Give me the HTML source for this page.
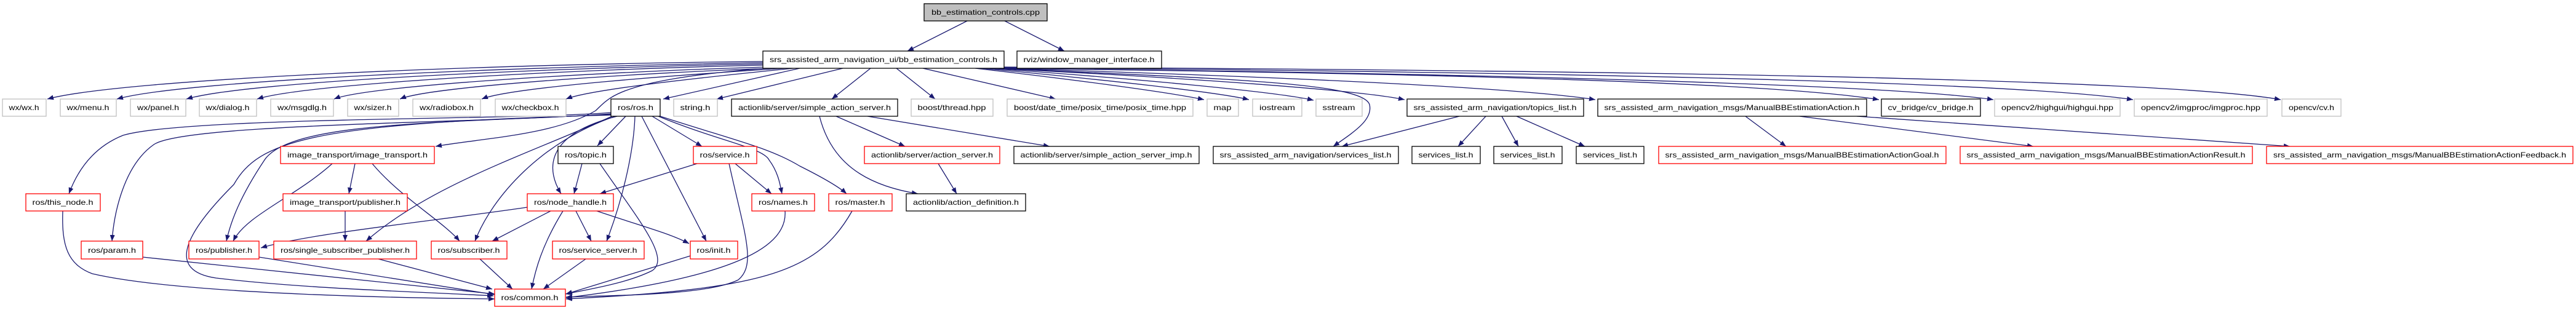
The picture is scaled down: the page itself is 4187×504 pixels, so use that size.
<!DOCTYPE html>
<html><head><meta charset="utf-8"><style>
html,body{margin:0;padding:0;background:#fff;}
svg{display:block;}
text{font-family:"Liberation Sans",sans-serif;font-size:12px;fill:#000;}
.e{fill:none;stroke:#191970;stroke-width:1.3;marker-end:url(#a);}
.b{stroke:#000;fill:#fff;stroke-width:1.3;}
.g{stroke:#bfbfbf;fill:#fff;stroke-width:1.3;}
.r{stroke:#ff0000;fill:#fff;stroke-width:1.3;}
</style></head><body>
<svg width="4187" height="504" viewBox="0 0 4187 504" xmlns="http://www.w3.org/2000/svg">
<defs><marker id="a" markerUnits="userSpaceOnUse" markerWidth="11" markerHeight="8" refX="10" refY="4" orient="auto"><path d="M0,0 L10,4 L0,8 z" fill="#191970"/></marker></defs>
<g>
<!-- edges -->
<path class="e" d="M1572,34 L1475,83"/>
<path class="e" d="M1633,34 L1730,83"/>
<path class="e" d="M1240,100 C 800,104 200,128 77,161"/>
<path class="e" d="M1240,102 C 850,108 300,130 190,161"/>
<path class="e" d="M1240,104 C 900,110 400,132 303,161"/>
<path class="e" d="M1240,106 C 950,112 500,135 418,161"/>
<path class="e" d="M1245,109 C 1000,116 600,138 543,161"/>
<path class="e" d="M1255,111 C 1050,118 700,140 650,161"/>
<path class="e" d="M1275,111 C 1100,122 830,142 783,161"/>
<path class="e" d="M1290,111 C 1150,125 960,145 920,161"/>
<path class="e" d="M1300,111 L1078,161"/>
<path class="e" d="M1370,111 L1165,161"/>
<path class="e" d="M1415,111 L1352,161"/>
<path class="e" d="M1457,111 L1520,161"/>
<path class="e" d="M1500,111 L1716,161"/>
<path class="e" d="M1585,111 C 1750,130 1900,150 1957,162"/>
<path class="e" d="M1595,111 C 1800,130 1980,150 2030,162"/>
<path class="e" d="M1605,111 C 1850,128 2080,150 2135,163"/>
<path class="e" d="M1612,111 C 1900,125 2200,145 2283,162"/>
<path class="e" d="M1620,111 C 2000,122 2450,140 2593,162"/>
<path class="e" d="M1625,111 C 2200,118 2850,130 3054,162"/>
<path class="e" d="M1628,111 C 2300,118 3050,135 3240,162"/>
<path class="e" d="M1630,110 C 2400,116 3250,130 3467,162"/>
<path class="e" d="M1632,109 C 2500,114 3500,125 3707,162"/>
<path class="e" d="M1245,111 C 1000,130 990,160 968,180 C 900,220 780,225 708,238"/>
<path class="e" d="M1615,111 C 2000,128 2215,135 2226,170 C 2232,195 2200,215 2167,238"/>
<path class="e" d="M993,183 C 850,195 300,190 200,220 C 150,240 125,280 112,315"/>
<path class="e" d="M993,185 C 800,200 300,200 250,235 C 200,270 185,350 182,392"/>
<path class="e" d="M995,186 C 700,200 470,200 430,260 C 390,320 375,360 368,392"/>
<path class="e" d="M995,187 C 500,200 420,230 380,300 C 300,380 270,440 351,452 C 500,470 700,475 802,481"/>
<path class="e" d="M997,188 C 860,250 700,300 595,392"/>
<path class="e" d="M1000,189 C 880,230 800,320 772,392"/>
<path class="e" d="M1003,189 C 880,220 890,280 912,315"/>
<path class="e" d="M1017,189 L971,237"/>
<path class="e" d="M1032,189 C 1030,250 1010,330 986,392"/>
<path class="e" d="M1043,189 L1148,392"/>
<path class="e" d="M1060,189 L1141,238"/>
<path class="e" d="M1070,189 C 1170,230 1240,240 1250,260 C 1265,280 1268,300 1271,315"/>
<path class="e" d="M1073,189 C 1200,230 1250,240 1300,270 C 1340,290 1365,305 1376,315"/>
<path class="e" d="M540,266 C 480,320 400,350 379,392"/>
<path class="e" d="M577,266 L567,315"/>
<path class="e" d="M605,266 C 650,320 720,360 747,392"/>
<path class="e" d="M561,343 L561,392"/>
<path class="e" d="M946,266 L933,315"/>
<path class="e" d="M975,266 C 1040,360 1090,420 1060,440 C 1020,460 960,470 919,478"/>
<path class="e" d="M857,337 C 700,360 500,380 424,403"/>
<path class="e" d="M895,343 L800,392"/>
<path class="e" d="M915,343 C 880,400 870,440 864,470"/>
<path class="e" d="M936,343 L961,392"/>
<path class="e" d="M970,343 C 1050,370 1090,380 1120,396"/>
<path class="e" d="M1133,266 L975,315"/>
<path class="e" d="M1195,266 L1254,315"/>
<path class="e" d="M1185,266 C 1210,380 1230,430 1200,455 C 1150,480 1000,480 920,483"/>
<path class="e" d="M1122,416 L920,478"/>
<path class="e" d="M1276,343 C 1280,400 1200,450 920,484"/>
<path class="e" d="M1385,343 C 1330,440 1250,470 920,486"/>
<path class="e" d="M102,343 C 100,400 110,430 150,445 C 300,480 700,485 804,486"/>
<path class="e" d="M232,418 L804,478"/>
<path class="e" d="M421,418 L804,479"/>
<path class="e" d="M615,421 L800,470"/>
<path class="e" d="M780,421 L833,470"/>
<path class="e" d="M952,421 L883,470"/>
<path class="e" d="M1359,189 L1471,238"/>
<path class="e" d="M1410,189 L1706,238"/>
<path class="e" d="M1332,189 C 1350,260 1400,300 1492,315"/>
<path class="e" d="M1525,266 L1555,315"/>
<path class="e" d="M2372,189 L2181,238"/>
<path class="e" d="M2415,189 L2370,238"/>
<path class="e" d="M2441,189 L2468,238"/>
<path class="e" d="M2465,189 L2576,238"/>
<path class="e" d="M2837,189 L2903,238"/>
<path class="e" d="M2925,189 L3305,238"/>
<path class="e" d="M3018,189 L3722,238"/>
</g>
<g text-anchor="middle" lengthAdjust="spacingAndGlyphs">
<!-- row0 -->
<rect x="1502" y="6" width="200" height="28" class="b" style="fill:#bfbfbf"/><text x="1602" y="24" textLength="176" lengthAdjust="spacingAndGlyphs">bb_estimation_controls.cpp</text>
<!-- row1 -->
<rect x="1240" y="83" width="392" height="28" class="b"/><text x="1436" y="101" textLength="370" lengthAdjust="spacingAndGlyphs">srs_assisted_arm_navigation_ui/bb_estimation_controls.h</text>
<rect x="1653" y="83" width="235" height="28" class="b"/><text x="1770" y="101" textLength="213" lengthAdjust="spacingAndGlyphs">rviz/window_manager_interface.h</text>
<!-- row2 -->
<rect x="4" y="161" width="71" height="28" class="g"/><text x="39" y="179" textLength="49" lengthAdjust="spacingAndGlyphs">wx/wx.h</text>
<rect x="98" y="161" width="91" height="28" class="g"/><text x="143" y="179" textLength="69" lengthAdjust="spacingAndGlyphs">wx/menu.h</text>
<rect x="212" y="161" width="90" height="28" class="g"/><text x="257" y="179" textLength="68" lengthAdjust="spacingAndGlyphs">wx/panel.h</text>
<rect x="324" y="161" width="93" height="28" class="g"/><text x="370" y="179" textLength="71" lengthAdjust="spacingAndGlyphs">wx/dialog.h</text>
<rect x="440" y="161" width="102" height="28" class="g"/><text x="491" y="179" textLength="80" lengthAdjust="spacingAndGlyphs">wx/msgdlg.h</text>
<rect x="565" y="161" width="83" height="28" class="g"/><text x="606" y="179" textLength="61" lengthAdjust="spacingAndGlyphs">wx/sizer.h</text>
<rect x="671" y="161" width="110" height="28" class="g"/><text x="726" y="179" textLength="88" lengthAdjust="spacingAndGlyphs">wx/radiobox.h</text>
<rect x="805" y="161" width="115" height="28" class="g"/><text x="862" y="179" textLength="93" lengthAdjust="spacingAndGlyphs">wx/checkbox.h</text>
<rect x="993" y="161" width="80" height="28" class="b"/><text x="1033" y="179" textLength="58" lengthAdjust="spacingAndGlyphs">ros/ros.h</text>
<rect x="1095" y="161" width="71" height="28" class="g"/><text x="1130" y="179" textLength="49" lengthAdjust="spacingAndGlyphs">string.h</text>
<rect x="1189" y="161" width="270" height="28" class="b"/><text x="1324" y="179" textLength="248" lengthAdjust="spacingAndGlyphs">actionlib/server/simple_action_server.h</text>
<rect x="1481" y="161" width="133" height="28" class="g"/><text x="1547" y="179" textLength="111" lengthAdjust="spacingAndGlyphs">boost/thread.hpp</text>
<rect x="1637" y="161" width="302" height="28" class="g"/><text x="1788" y="179" textLength="280" lengthAdjust="spacingAndGlyphs">boost/date_time/posix_time/posix_time.hpp</text>
<rect x="1962" y="161" width="51" height="28" class="g"/><text x="1987" y="179" textLength="29" lengthAdjust="spacingAndGlyphs">map</text>
<rect x="2036" y="161" width="80" height="28" class="g"/><text x="2076" y="179" textLength="58" lengthAdjust="spacingAndGlyphs">iostream</text>
<rect x="2139" y="161" width="75" height="28" class="g"/><text x="2176" y="179" textLength="53" lengthAdjust="spacingAndGlyphs">sstream</text>
<rect x="2287" y="161" width="287" height="28" class="b"/><text x="2430" y="179" textLength="265" lengthAdjust="spacingAndGlyphs">srs_assisted_arm_navigation/topics_list.h</text>
<rect x="2597" y="161" width="437" height="28" class="b"/><text x="2815" y="179" textLength="415" lengthAdjust="spacingAndGlyphs">srs_assisted_arm_navigation_msgs/ManualBBEstimationAction.h</text>
<rect x="3058" y="161" width="161" height="28" class="b"/><text x="3138" y="179" textLength="139" lengthAdjust="spacingAndGlyphs">cv_bridge/cv_bridge.h</text>
<rect x="3242" y="161" width="204" height="28" class="g"/><text x="3344" y="179" textLength="182" lengthAdjust="spacingAndGlyphs">opencv2/highgui/highgui.hpp</text>
<rect x="3469" y="161" width="216" height="28" class="g"/><text x="3577" y="179" textLength="194" lengthAdjust="spacingAndGlyphs">opencv2/imgproc/imgproc.hpp</text>
<rect x="3709" y="161" width="96" height="28" class="g"/><text x="3757" y="179" textLength="74" lengthAdjust="spacingAndGlyphs">opencv/cv.h</text>
<!-- row3 -->
<rect x="456" y="238" width="250" height="28" class="r"/><text x="581" y="256" textLength="228" lengthAdjust="spacingAndGlyphs">image_transport/image_transport.h</text>
<rect x="907" y="238" width="90" height="28" class="b"/><text x="952" y="256" textLength="68" lengthAdjust="spacingAndGlyphs">ros/topic.h</text>
<rect x="1127" y="238" width="103" height="28" class="r"/><text x="1178" y="256" textLength="81" lengthAdjust="spacingAndGlyphs">ros/service.h</text>
<rect x="1405" y="238" width="220" height="28" class="r"/><text x="1515" y="256" textLength="198" lengthAdjust="spacingAndGlyphs">actionlib/server/action_server.h</text>
<rect x="1648" y="238" width="301" height="28" class="b"/><text x="1798" y="256" textLength="279" lengthAdjust="spacingAndGlyphs">actionlib/server/simple_action_server_imp.h</text>
<rect x="1972" y="238" width="301" height="28" class="b"/><text x="2122" y="256" textLength="279" lengthAdjust="spacingAndGlyphs">srs_assisted_arm_navigation/services_list.h</text>
<rect x="2295" y="238" width="111" height="28" class="b"/><text x="2350" y="256" textLength="89" lengthAdjust="spacingAndGlyphs">services_list.h</text>
<rect x="2428" y="238" width="111" height="28" class="b"/><text x="2483" y="256" textLength="89" lengthAdjust="spacingAndGlyphs">services_list.h</text>
<rect x="2562" y="238" width="110" height="28" class="b"/><text x="2617" y="256" textLength="88" lengthAdjust="spacingAndGlyphs">services_list.h</text>
<rect x="2696" y="238" width="467" height="28" class="r"/><text x="2929" y="256" textLength="445" lengthAdjust="spacingAndGlyphs">srs_assisted_arm_navigation_msgs/ManualBBEstimationActionGoal.h</text>
<rect x="3186" y="238" width="475" height="28" class="r"/><text x="3423" y="256" textLength="453" lengthAdjust="spacingAndGlyphs">srs_assisted_arm_navigation_msgs/ManualBBEstimationActionResult.h</text>
<rect x="3684" y="238" width="498" height="28" class="r"/><text x="3933" y="256" textLength="476" lengthAdjust="spacingAndGlyphs">srs_assisted_arm_navigation_msgs/ManualBBEstimationActionFeedback.h</text>
<!-- row4 -->
<rect x="42" y="315" width="121" height="28" class="r"/><text x="102" y="333" textLength="99" lengthAdjust="spacingAndGlyphs">ros/this_node.h</text>
<rect x="460" y="315" width="202" height="28" class="r"/><text x="561" y="333" textLength="180" lengthAdjust="spacingAndGlyphs">image_transport/publisher.h</text>
<rect x="857" y="315" width="140" height="28" class="r"/><text x="927" y="333" textLength="118" lengthAdjust="spacingAndGlyphs">ros/node_handle.h</text>
<rect x="1222" y="315" width="102" height="28" class="r"/><text x="1273" y="333" textLength="80" lengthAdjust="spacingAndGlyphs">ros/names.h</text>
<rect x="1347" y="315" width="103" height="28" class="r"/><text x="1398" y="333" textLength="81" lengthAdjust="spacingAndGlyphs">ros/master.h</text>
<rect x="1473" y="315" width="194" height="28" class="b"/><text x="1570" y="333" textLength="172" lengthAdjust="spacingAndGlyphs">actionlib/action_definition.h</text>
<!-- row5 -->
<rect x="132" y="392" width="100" height="29" class="r"/><text x="182" y="411" textLength="78" lengthAdjust="spacingAndGlyphs">ros/param.h</text>
<rect x="307" y="392" width="114" height="29" class="r"/><text x="364" y="411" textLength="92" lengthAdjust="spacingAndGlyphs">ros/publisher.h</text>
<rect x="445" y="392" width="232" height="29" class="r"/><text x="561" y="411" textLength="210" lengthAdjust="spacingAndGlyphs">ros/single_subscriber_publisher.h</text>
<rect x="701" y="392" width="123" height="29" class="r"/><text x="762" y="411" textLength="101" lengthAdjust="spacingAndGlyphs">ros/subscriber.h</text>
<rect x="898" y="392" width="149" height="29" class="r"/><text x="972" y="411" textLength="127" lengthAdjust="spacingAndGlyphs">ros/service_server.h</text>
<rect x="1122" y="392" width="77" height="29" class="r"/><text x="1160" y="411" textLength="55" lengthAdjust="spacingAndGlyphs">ros/init.h</text>
<!-- row6 -->
<rect x="804" y="470" width="115" height="28" class="r"/><text x="861" y="488" textLength="93" lengthAdjust="spacingAndGlyphs">ros/common.h</text>
</g>
</svg>
</body></html>
